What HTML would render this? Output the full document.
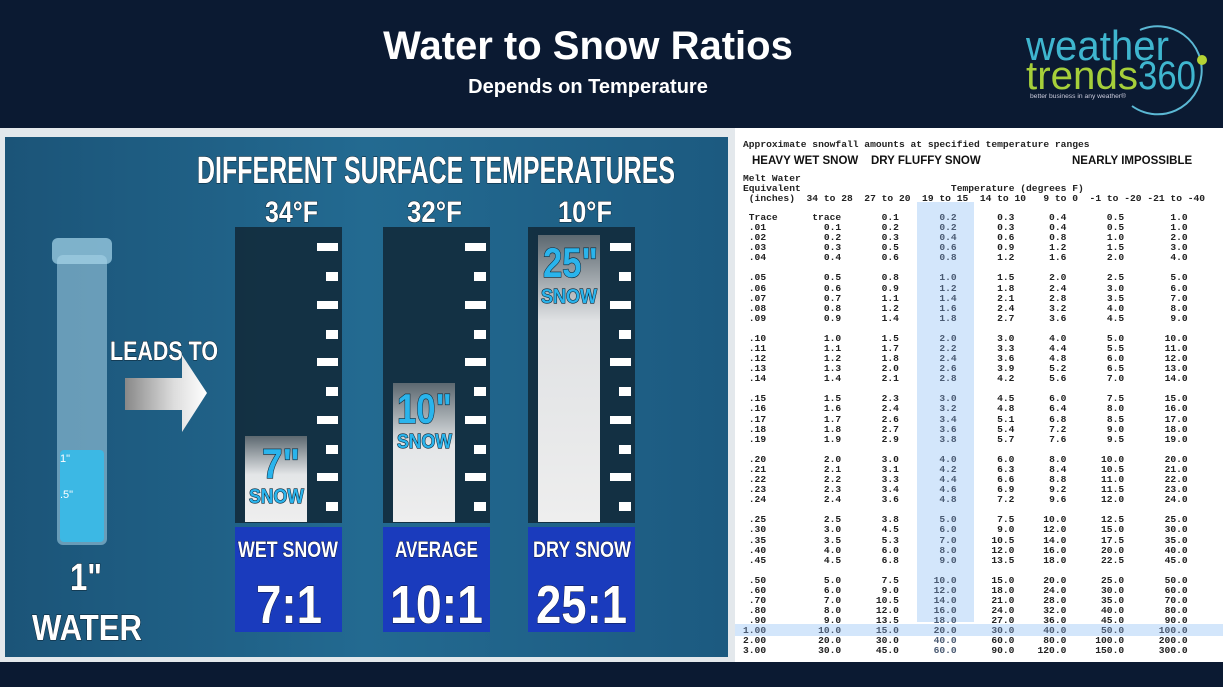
<!DOCTYPE html>
<html><head><meta charset="utf-8"><style>
html,body{margin:0;padding:0}
body{width:1223px;height:687px;background:#0b1a32;position:relative;overflow:hidden;font-family:"Liberation Sans",sans-serif}
.h1{position:absolute;left:0;width:1176px;text-align:center;color:#fff;font-weight:bold}
.tbl{position:absolute;left:735px;top:128px;width:488px;height:534px;background:#fff}
.mono{font-family:"Liberation Mono",monospace;font-weight:bold;font-size:9.63px;color:#222;position:absolute;white-space:pre;line-height:10.08px}
.rows{white-space:normal}
.r{display:flex;height:10.08px;line-height:10.08px;white-space:nowrap}
.r span{display:block;text-align:right;flex:none}
.r span:nth-child(1){width:4ch}.r span:nth-child(2){width:13ch}.r span:nth-child(3){width:10ch}
.r span:nth-child(4){width:10ch;color:#4a5a72}.r span:nth-child(5){width:10ch}.r span:nth-child(6){width:9ch}
.r span:nth-child(7){width:10ch}.r span:nth-child(8){width:11ch}
.cat{position:absolute;top:155px;font-size:11.5px;font-weight:bold;color:#111}
</style></head><body>
<div class="h1" style="top:24px;font-size:40px">Water to Snow Ratios</div>
<div class="h1" style="top:76px;font-size:20px">Depends on Temperature</div>
<svg style="position:absolute;left:1010px;top:10px" width="213" height="115">
<path d="M 130 20 A 44 44 0 1 1 122 96" fill="none" stroke="#5bb8d4" stroke-width="2"/>
<circle cx="192" cy="50" r="5" fill="#b5d334"/>
<text x="16" y="50" font-size="42" fill="#3fb6cf" font-family="Liberation Sans" textLength="143" lengthAdjust="spacingAndGlyphs">weather</text>
<text x="16" y="79" font-size="40" fill="#a6cf3a" font-family="Liberation Sans" textLength="112" lengthAdjust="spacingAndGlyphs">trends</text>
<text x="128" y="79" font-size="40" fill="#3fb6cf" font-family="Liberation Sans" textLength="58" lengthAdjust="spacingAndGlyphs">360</text>
<text x="20" y="88" font-size="6" fill="#ccd" textLength="96" lengthAdjust="spacingAndGlyphs">better business in any weather®</text>
</svg>

<svg style="position:absolute;left:0;top:128px" width="735" height="534" viewBox="0 128 735 534">
<defs>
<linearGradient id="bg" x1="0" y1="0" x2="1" y2="0"><stop offset="0" stop-color="#1b5478"/><stop offset=".5" stop-color="#236a91"/><stop offset="1" stop-color="#1c5a80"/></linearGradient>
<linearGradient id="sn" x1="0" y1="0" x2="0" y2="1"><stop offset="0" stop-color="#5c6870"/><stop offset=".45" stop-color="#e4e6e8"/><stop offset="1" stop-color="#eeeeee"/></linearGradient>
<linearGradient id="sn3" x1="0" y1="0" x2="0" y2="1"><stop offset="0" stop-color="#5c6870"/><stop offset=".3" stop-color="#e0e2e4"/><stop offset="1" stop-color="#eeeeee"/></linearGradient>
<linearGradient id="ar" x1="0" y1="0" x2="1" y2="0"><stop offset="0" stop-color="#888"/><stop offset=".6" stop-color="#ddd"/><stop offset="1" stop-color="#fff"/></linearGradient>
</defs>
<rect x="0" y="128" width="735" height="534" fill="#e3e8ec"/>
<rect x="5" y="137" width="723" height="520" fill="url(#bg)"/>
<g font-family="Liberation Sans" font-weight="bold" fill="#fff" stroke="#0a1e2c" stroke-width="1" paint-order="stroke">
<text x="197" y="183" font-size="38" textLength="478" lengthAdjust="spacingAndGlyphs">DIFFERENT SURFACE TEMPERATURES</text>
<text x="265" y="222" font-size="30" textLength="53" lengthAdjust="spacingAndGlyphs">34°F</text>
<text x="407" y="222" font-size="30" textLength="55" lengthAdjust="spacingAndGlyphs">32°F</text>
<text x="558" y="222" font-size="30" textLength="54" lengthAdjust="spacingAndGlyphs">10°F</text>
<text x="110" y="360" font-size="27" textLength="108" lengthAdjust="spacingAndGlyphs">LEADS TO</text>
<text x="70" y="590" font-size="38" textLength="32" lengthAdjust="spacingAndGlyphs">1"</text>
<text x="32" y="640" font-size="36" textLength="110" lengthAdjust="spacingAndGlyphs">WATER</text>
</g>
<polygon points="125,378 182,378 182,355 207,393 182,432 182,410 125,410" fill="url(#ar)"/>
<rect x="52" y="238" width="60" height="26" rx="6" fill="#9fd0e6" opacity=".75"/>
<rect x="57" y="255" width="50" height="290" rx="6" fill="#a8d6ea" opacity=".55"/>
<rect x="60" y="450" width="44" height="92" rx="4" fill="#3cb8e4"/>
<text x="60" y="462" font-size="11" fill="#fff" font-family="Liberation Sans">1"</text>
<text x="60" y="498" font-size="11" fill="#fff" font-family="Liberation Sans">.5"</text>
<g id="c1">
<rect x="235" y="227" width="107" height="296" fill="#122b3c" opacity=".9"/>
<g fill="#fff">
<rect x="317" y="243" width="21" height="8"/><rect x="326" y="272" width="12" height="9"/>
<rect x="317" y="301" width="21" height="8"/><rect x="326" y="330" width="12" height="9"/>
<rect x="317" y="358" width="21" height="8"/><rect x="326" y="387" width="12" height="9"/>
<rect x="317" y="416" width="21" height="8"/><rect x="326" y="445" width="12" height="9"/>
<rect x="317" y="473" width="21" height="8"/><rect x="326" y="502" width="12" height="9"/>
</g>
</g>
<use href="#c1" x="148"/><use href="#c1" x="293"/>
<rect x="245" y="436" width="62" height="86" fill="url(#sn)"/>
<rect x="393" y="383" width="62" height="139" fill="url(#sn)"/>
<rect x="538" y="235" width="62" height="287" fill="url(#sn3)"/>
<g font-family="Liberation Sans" font-weight="bold" fill="#2ab4ec" stroke="#0d2434" stroke-width="1.2" paint-order="stroke">
<text x="262" y="478" font-size="42" textLength="38" lengthAdjust="spacingAndGlyphs">7"</text>
<text x="249" y="503" font-size="20" textLength="55" lengthAdjust="spacingAndGlyphs">SNOW</text>
<text x="397" y="423" font-size="42" textLength="55" lengthAdjust="spacingAndGlyphs">10"</text>
<text x="397" y="448" font-size="20" textLength="55" lengthAdjust="spacingAndGlyphs">SNOW</text>
<text x="543" y="277" font-size="42" textLength="55" lengthAdjust="spacingAndGlyphs">25"</text>
<text x="541" y="303" font-size="20" textLength="56" lengthAdjust="spacingAndGlyphs">SNOW</text>
</g>
<rect x="235" y="527" width="107" height="105" fill="#1a3bbd"/>
<rect x="383" y="527" width="107" height="105" fill="#1a3bbd"/>
<rect x="528" y="527" width="107" height="105" fill="#1a3bbd"/>
<g font-family="Liberation Sans" font-weight="bold" fill="#fff" stroke="#0a1540" stroke-width="1" paint-order="stroke">
<text x="238" y="557" font-size="22" textLength="100" lengthAdjust="spacingAndGlyphs">WET SNOW</text>
<text x="256" y="623" font-size="54" textLength="66" lengthAdjust="spacingAndGlyphs">7:1</text>
<text x="395" y="557" font-size="22" textLength="83" lengthAdjust="spacingAndGlyphs">AVERAGE</text>
<text x="390" y="623" font-size="54" textLength="93" lengthAdjust="spacingAndGlyphs">10:1</text>
<text x="533" y="557" font-size="22" textLength="98" lengthAdjust="spacingAndGlyphs">DRY SNOW</text>
<text x="536" y="623" font-size="54" textLength="91" lengthAdjust="spacingAndGlyphs">25:1</text>
</g>
</svg>

<div class="tbl"></div>
<div style="position:absolute;left:917px;top:202px;width:57px;height:420px;background:#d3e6fb"></div>
<div style="position:absolute;left:735px;top:624px;width:488px;height:12px;background:#d3e6fb"></div>
<div class="mono" style="left:743px;top:140px">Approximate snowfall amounts at specified temperature ranges</div>
<div class="cat" style="left:752px">HEAVY WET SNOW</div>
<div class="cat" style="left:871px">DRY FLUFFY SNOW</div>
<div class="cat" style="left:1072px">NEARLY IMPOSSIBLE</div>
<div class="mono" style="left:743px;top:174px">Melt Water
Equivalent                          Temperature (degrees F)
 (inches)  34 to 28  27 to 20  19 to 15  14 to 10   9 to 0  -1 to -20 -21 to -40</div>
<div class="mono rows" style="left:743px;top:213px"><div class="r"><span style="text-align:left;padding-left:1ch;width:3ch">Trace</span><span>trace </span><span>0.1</span><span>0.2</span><span>0.3</span><span>0.4</span><span>0.5</span><span>1.0</span></div><div class="r"><span>.01</span><span>0.1</span><span>0.2</span><span>0.2</span><span>0.3</span><span>0.4</span><span>0.5</span><span>1.0</span></div><div class="r"><span>.02</span><span>0.2</span><span>0.3</span><span>0.4</span><span>0.6</span><span>0.8</span><span>1.0</span><span>2.0</span></div><div class="r"><span>.03</span><span>0.3</span><span>0.5</span><span>0.6</span><span>0.9</span><span>1.2</span><span>1.5</span><span>3.0</span></div><div class="r"><span>.04</span><span>0.4</span><span>0.6</span><span>0.8</span><span>1.2</span><span>1.6</span><span>2.0</span><span>4.0</span></div><div class="r"></div><div class="r"><span>.05</span><span>0.5</span><span>0.8</span><span>1.0</span><span>1.5</span><span>2.0</span><span>2.5</span><span>5.0</span></div><div class="r"><span>.06</span><span>0.6</span><span>0.9</span><span>1.2</span><span>1.8</span><span>2.4</span><span>3.0</span><span>6.0</span></div><div class="r"><span>.07</span><span>0.7</span><span>1.1</span><span>1.4</span><span>2.1</span><span>2.8</span><span>3.5</span><span>7.0</span></div><div class="r"><span>.08</span><span>0.8</span><span>1.2</span><span>1.6</span><span>2.4</span><span>3.2</span><span>4.0</span><span>8.0</span></div><div class="r"><span>.09</span><span>0.9</span><span>1.4</span><span>1.8</span><span>2.7</span><span>3.6</span><span>4.5</span><span>9.0</span></div><div class="r"></div><div class="r"><span>.10</span><span>1.0</span><span>1.5</span><span>2.0</span><span>3.0</span><span>4.0</span><span>5.0</span><span>10.0</span></div><div class="r"><span>.11</span><span>1.1</span><span>1.7</span><span>2.2</span><span>3.3</span><span>4.4</span><span>5.5</span><span>11.0</span></div><div class="r"><span>.12</span><span>1.2</span><span>1.8</span><span>2.4</span><span>3.6</span><span>4.8</span><span>6.0</span><span>12.0</span></div><div class="r"><span>.13</span><span>1.3</span><span>2.0</span><span>2.6</span><span>3.9</span><span>5.2</span><span>6.5</span><span>13.0</span></div><div class="r"><span>.14</span><span>1.4</span><span>2.1</span><span>2.8</span><span>4.2</span><span>5.6</span><span>7.0</span><span>14.0</span></div><div class="r"></div><div class="r"><span>.15</span><span>1.5</span><span>2.3</span><span>3.0</span><span>4.5</span><span>6.0</span><span>7.5</span><span>15.0</span></div><div class="r"><span>.16</span><span>1.6</span><span>2.4</span><span>3.2</span><span>4.8</span><span>6.4</span><span>8.0</span><span>16.0</span></div><div class="r"><span>.17</span><span>1.7</span><span>2.6</span><span>3.4</span><span>5.1</span><span>6.8</span><span>8.5</span><span>17.0</span></div><div class="r"><span>.18</span><span>1.8</span><span>2.7</span><span>3.6</span><span>5.4</span><span>7.2</span><span>9.0</span><span>18.0</span></div><div class="r"><span>.19</span><span>1.9</span><span>2.9</span><span>3.8</span><span>5.7</span><span>7.6</span><span>9.5</span><span>19.0</span></div><div class="r"></div><div class="r"><span>.20</span><span>2.0</span><span>3.0</span><span>4.0</span><span>6.0</span><span>8.0</span><span>10.0</span><span>20.0</span></div><div class="r"><span>.21</span><span>2.1</span><span>3.1</span><span>4.2</span><span>6.3</span><span>8.4</span><span>10.5</span><span>21.0</span></div><div class="r"><span>.22</span><span>2.2</span><span>3.3</span><span>4.4</span><span>6.6</span><span>8.8</span><span>11.0</span><span>22.0</span></div><div class="r"><span>.23</span><span>2.3</span><span>3.4</span><span>4.6</span><span>6.9</span><span>9.2</span><span>11.5</span><span>23.0</span></div><div class="r"><span>.24</span><span>2.4</span><span>3.6</span><span>4.8</span><span>7.2</span><span>9.6</span><span>12.0</span><span>24.0</span></div><div class="r"></div><div class="r"><span>.25</span><span>2.5</span><span>3.8</span><span>5.0</span><span>7.5</span><span>10.0</span><span>12.5</span><span>25.0</span></div><div class="r"><span>.30</span><span>3.0</span><span>4.5</span><span>6.0</span><span>9.0</span><span>12.0</span><span>15.0</span><span>30.0</span></div><div class="r"><span>.35</span><span>3.5</span><span>5.3</span><span>7.0</span><span>10.5</span><span>14.0</span><span>17.5</span><span>35.0</span></div><div class="r"><span>.40</span><span>4.0</span><span>6.0</span><span>8.0</span><span>12.0</span><span>16.0</span><span>20.0</span><span>40.0</span></div><div class="r"><span>.45</span><span>4.5</span><span>6.8</span><span>9.0</span><span>13.5</span><span>18.0</span><span>22.5</span><span>45.0</span></div><div class="r"></div><div class="r"><span>.50</span><span>5.0</span><span>7.5</span><span>10.0</span><span>15.0</span><span>20.0</span><span>25.0</span><span>50.0</span></div><div class="r"><span>.60</span><span>6.0</span><span>9.0</span><span>12.0</span><span>18.0</span><span>24.0</span><span>30.0</span><span>60.0</span></div><div class="r"><span>.70</span><span>7.0</span><span>10.5</span><span>14.0</span><span>21.0</span><span>28.0</span><span>35.0</span><span>70.0</span></div><div class="r"><span>.80</span><span>8.0</span><span>12.0</span><span>16.0</span><span>24.0</span><span>32.0</span><span>40.0</span><span>80.0</span></div><div class="r"><span>.90</span><span>9.0</span><span>13.5</span><span>18.0</span><span>27.0</span><span>36.0</span><span>45.0</span><span>90.0</span></div><div class="r" style="color:#4a5a72"><span>1.00</span><span>10.0</span><span>15.0</span><span>20.0</span><span>30.0</span><span>40.0</span><span>50.0</span><span>100.0</span></div><div class="r"><span>2.00</span><span>20.0</span><span>30.0</span><span>40.0</span><span>60.0</span><span>80.0</span><span>100.0</span><span>200.0</span></div><div class="r"><span>3.00</span><span>30.0</span><span>45.0</span><span>60.0</span><span>90.0</span><span>120.0</span><span>150.0</span><span>300.0</span></div></div>
</body></html>
